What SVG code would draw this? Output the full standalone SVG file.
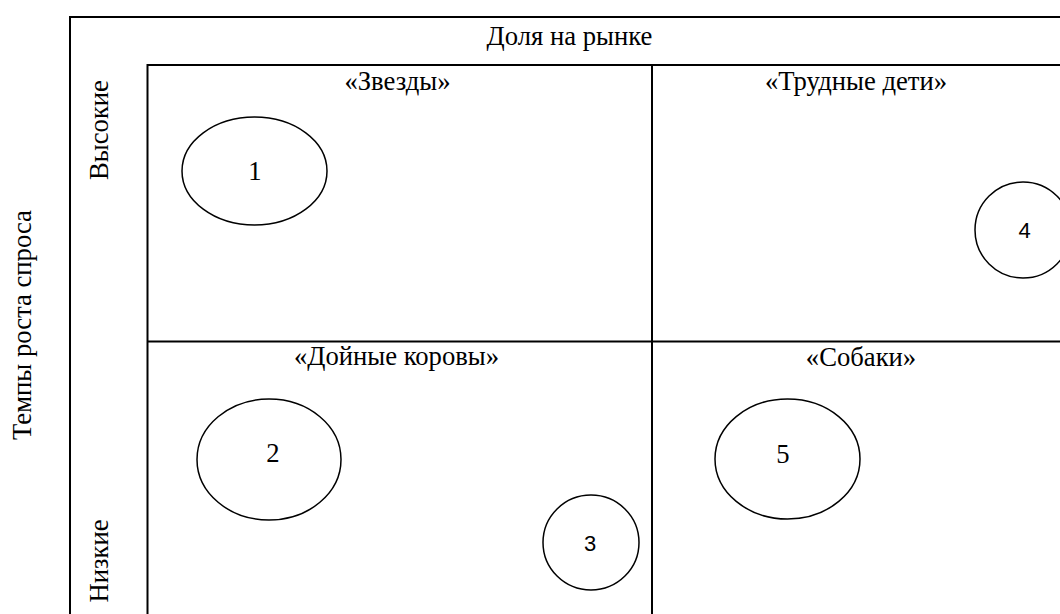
<svg xmlns="http://www.w3.org/2000/svg" width="1060" height="614" viewBox="0 0 1060 614">
<style>
.frame{fill:none;stroke:#000;stroke-width:2}
.bub{fill:none;stroke:#000;stroke-width:1.5}
.t{font-family:"Liberation Serif","Times New Roman",serif;font-size:26.67px;fill:#000;text-anchor:middle}
.ss{font-family:"Liberation Sans",Arial,sans-serif;font-size:22px;fill:#000;text-anchor:middle}
</style>
<rect width="1060" height="614" fill="#fff"/>
<g id="frame">
<rect class="frame" x="70" y="17" width="1010" height="620"/>
<rect class="frame" x="147.5" y="65" width="930" height="570"/>
<line class="frame" x1="147.5" y1="341.5" x2="1070" y2="341.5"/>
<line class="frame" x1="652" y1="65" x2="652" y2="614"/>
</g>
<g id="axis-labels">
<text class="t" x="569.5" y="45">Доля на рынке</text>
<text class="t" transform="translate(108,130) rotate(-90)">Высокие</text>
<text class="t" transform="translate(108,561) rotate(-90)">Низкие</text>
<text class="t" transform="translate(31,325) rotate(-90)">Темпы роста спроса</text>
</g>
<g id="quadrant-stars"><text class="t" x="397.5" y="90">«Звезды»</text></g>
<g id="quadrant-problem"><text class="t" x="856" y="90">«Трудные дети»</text></g>
<g id="quadrant-cows"><text class="t" x="396.5" y="365">«Дойные коровы»</text></g>
<g id="quadrant-dogs"><text class="t" x="861" y="366">«Собаки»</text></g>
<g id="bubble-1"><ellipse class="bub" cx="254.5" cy="171" rx="72.5" ry="54"/><text class="t" x="255" y="180">1</text></g>
<g id="bubble-2"><ellipse class="bub" cx="269" cy="459.5" rx="72" ry="60.5"/><text class="t" x="273" y="462">2</text></g>
<g id="bubble-3"><ellipse class="bub" cx="591" cy="542.5" rx="48" ry="47.5"/><text class="ss" x="590" y="551">3</text></g>
<g id="bubble-4"><ellipse class="bub" cx="1023" cy="230" rx="48" ry="48"/><text class="ss" x="1024.5" y="238">4</text></g>
<g id="bubble-5"><ellipse class="bub" cx="787.5" cy="459" rx="72.5" ry="60"/><text class="t" x="783" y="463">5</text></g>
</svg>
